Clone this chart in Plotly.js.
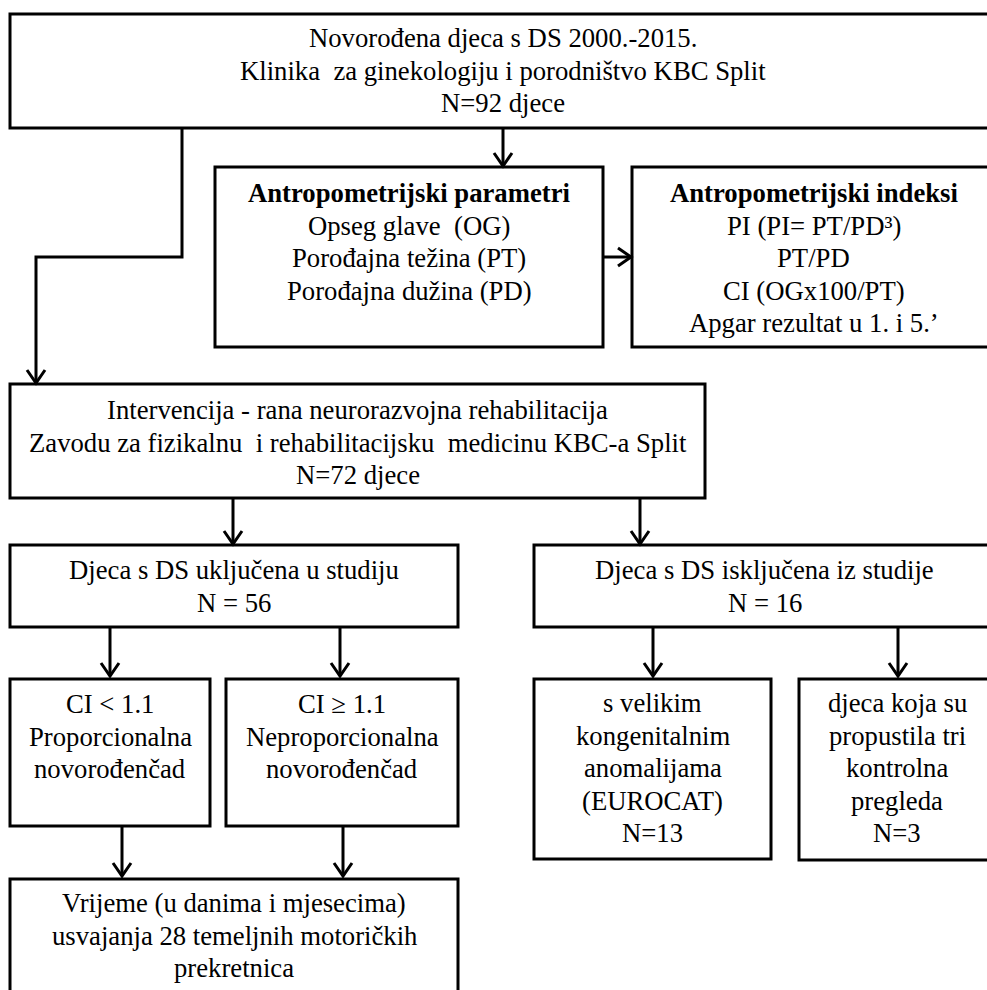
<!DOCTYPE html>
<html>
<head>
<meta charset="utf-8">
<script src="https://cdn.plot.ly/plotly-3.0.1.min.js"></script>
<style>html,body{margin:0;padding:0;background:#fff;}#chart{width:987px;height:990px;}</style>
</head>
<body>
<div id="chart"></div>
<script>
// ---- content (text of each node) ----
var nodeIds = ["top","param","indeksi","interv","uklj","isklj","ci1","ci2","velik","propust","vrijeme"];
var nodeTexts = [
  "Novorođena djeca s DS 2000.-2015.<br>Klinika  za ginekologiju i porodništvo KBC Split<br>N=92 djece",
  "<b>Antropometrijski parametri</b><br>Opseg glave  (OG)<br>Porođajna težina (PT)<br>Porođajna dužina (PD)",
  "<b>Antropometrijski indeksi</b><br>PI (PI= PT/PD³)<br>PT/PD<br>CI (OGx100/PT)<br>Apgar rezultat u 1. i 5.’",
  "Intervencija - rana neurorazvojna rehabilitacija<br>Zavodu za fizikalnu  i rehabilitacijsku  medicinu KBC-a Split<br>N=72 djece",
  "Djeca s DS uključena u studiju<br>N = 56",
  "Djeca s DS isključena iz studije<br>N = 16",
  "CI &lt; 1.1<br>Proporcionalna<br>novorođenčad",
  "CI ≥ 1.1<br>Neproporcionalna<br>novorođenčad",
  "s velikim<br>kongenitalnim<br>anomalijama<br>(EUROCAT)<br>N=13",
  "djeca koja su<br>propustila tri<br>kontrolna<br>pregleda<br>N=3",
  "Vrijeme (u danima i mjesecima)<br>usvajanja 28 temeljnih motoričkih<br>prekretnica"
];
// edges: from node -> to node
var edgeFrom = ["top","top","param","interv","interv","uklj","uklj","isklj","isklj","ci1","ci2"];
var edgeTo   = ["interv","param","indeksi","uklj","isklj","ci1","ci2","velik","propust","vrijeme","vrijeme"];

// ---- layout geometry (pixels, y downward) ----
var geom = {
  top:     {box:[10,14,995,128],  firstLine:38},
  param:   {box:[215,167,603,347], firstLine:193},
  indeksi: {box:[632,167,995,347], firstLine:193},
  interv:  {box:[10,384,705,498],  firstLine:410},
  uklj:    {box:[10,545,458,627],  firstLine:570},
  isklj:   {box:[534,545,995,627], firstLine:570},
  ci1:     {box:[10,679,210,826],  firstLine:704},
  ci2:     {box:[226,679,458,826], firstLine:704},
  velik:   {box:[534,679,771,859], firstLine:703},
  propust: {box:[799,679,995,860], firstLine:703},
  vrijeme: {box:[10,879,458,1000], firstLine:903}
};
var connectorPaths = [
  [[182,128],[182,257],[36,257],[36,383]],
  [[503,128],[503,166]],
  [[603,257],[631,257]],
  [[233,498],[233,544]],
  [[640,498],[640,544]],
  [[110,627],[110,676]],
  [[340,627],[340,676]],
  [[653,627],[653,676]],
  [[898,627],[898,676]],
  [[122,826],[122,876]],
  [[343,826],[343,876]]
];

var FONT = {family:"Liberation Serif, Times New Roman, serif", size:26.7, color:"#000"};
var LINE_H = 32.5;
var LW = 3;

var shapes = [];
var annotations = [];
nodeIds.forEach(function(id, i){
  var g = geom[id], b = g.box;
  shapes.push({type:"rect", xref:"x", yref:"y", x0:b[0], y0:b[1], x1:b[2], y1:b[3],
    line:{color:"#000", width:LW}, fillcolor:"rgba(0,0,0,0)"});
  nodeTexts[i].split("<br>").forEach(function(line, k){
    annotations.push({xref:"x", yref:"y", x:(b[0]+b[2])/2, y:g.firstLine + k*LINE_H,
      text:line, showarrow:false, xanchor:"center", yanchor:"middle", align:"center",
      font:FONT});
  });
});
connectorPaths.forEach(function(pts){
  var d = "M" + pts.map(function(p){return p[0]+","+p[1];}).join(" L");
  shapes.push({type:"path", xref:"x", yref:"y", path:d, line:{color:"#000", width:LW}});
  var e = pts[pts.length-1], s = pts[pts.length-2];
  var dx = e[0]-s[0], dy = e[1]-s[1], len = Math.sqrt(dx*dx+dy*dy);
  var ux = dx/len, uy = dy/len, L = 13, W = 9;
  var bx = e[0]-ux*L, by = e[1]-uy*L;
  var h = "M"+(bx - uy*W)+","+(by + ux*W)+" L"+e[0]+","+e[1]+" L"+(bx + uy*W)+","+(by - ux*W);
  shapes.push({type:"path", xref:"x", yref:"y", path:h, line:{color:"#000", width:LW}});
});

var layout = {
  width:987, height:990, margin:{l:0,r:0,t:0,b:0},
  paper_bgcolor:"#fff", plot_bgcolor:"#fff",
  xaxis:{range:[0,987], visible:false, fixedrange:true},
  yaxis:{range:[990,0], visible:false, fixedrange:true},
  shapes:shapes, annotations:annotations, showlegend:false
};
Plotly.newPlot("chart", [], layout, {staticPlot:true});
</script>
</body>
</html>
